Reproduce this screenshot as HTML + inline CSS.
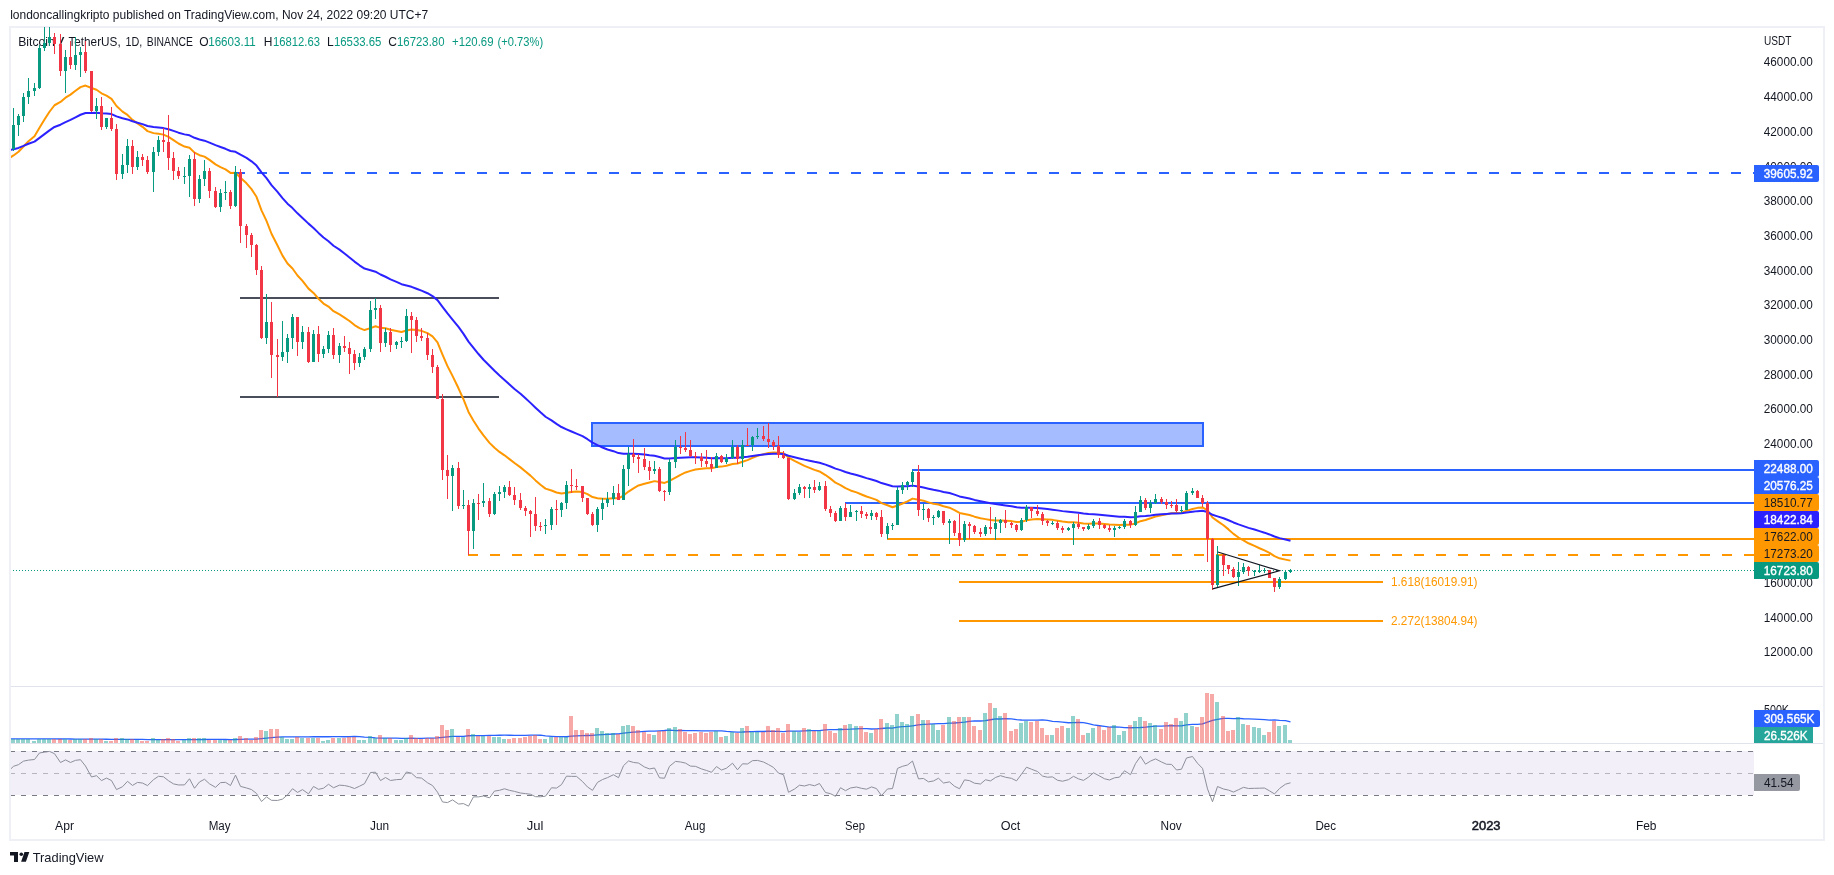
<!DOCTYPE html>
<html><head><meta charset="utf-8"><style>
html,body{margin:0;padding:0;background:#fff;width:1834px;height:875px;overflow:hidden;font-family:"Liberation Sans",sans-serif;}
</style></head><body>
<svg width="1834" height="875" viewBox="0 0 1834 875" style="position:absolute;left:0;top:0;will-change:transform">
<defs><clipPath id="cm"><rect x="11" y="27" width="1743" height="659"/></clipPath>
<clipPath id="cv"><rect x="11" y="687" width="1743" height="56"/></clipPath>
<clipPath id="cr"><rect x="11" y="744" width="1743" height="66"/></clipPath></defs>
<rect x="10" y="27" width="1814" height="813" fill="none" stroke="#eef0f5" stroke-width="2"/>
<rect x="11" y="686" width="1812" height="1" fill="#e0e3eb"/>
<rect x="11" y="743" width="1812" height="1" fill="#e0e3eb"/>
<g clip-path="url(#cm)">
<rect x="592" y="423" width="611" height="23" fill="rgba(41,98,255,0.42)" stroke="#2962ff" stroke-width="2"/>
<rect x="240" y="297" width="259" height="2" fill="#4a4e5a"/>
<rect x="240" y="396" width="259" height="2" fill="#4a4e5a"/>
<line x1="235" y1="173" x2="1754" y2="173" stroke="#2962ff" stroke-width="2" stroke-dasharray="10 12"/>
<rect x="912" y="469" width="842" height="2" fill="#2962ff"/>
<rect x="845" y="502" width="909" height="2" fill="#2962ff"/>
<rect x="887" y="538" width="867" height="2" fill="#ff9800"/>
<line x1="468" y1="555" x2="1754" y2="555" stroke="#ff9800" stroke-width="2" stroke-dasharray="10 12"/>
<rect x="959" y="581" width="424" height="2" fill="#ff9800"/>
<rect x="959" y="620" width="424" height="2" fill="#ff9800"/>
<line x1="11" y1="570.5" x2="1754" y2="570.5" stroke="#089981" stroke-width="1" stroke-dasharray="1 2" stroke-dashoffset="1"/>
<polyline points="8.50,158.62 13.50,155.43 18.50,151.69 23.50,146.47 28.50,141.22 34.50,136.14 39.50,127.71 44.50,119.60 49.50,111.75 54.50,105.25 60.50,101.94 65.50,97.67 70.50,94.59 75.50,90.81 80.50,87.11 85.50,85.56 91.50,87.99 96.50,89.74 101.50,93.30 106.50,95.69 111.50,98.83 116.50,106.02 122.50,111.63 127.50,114.92 132.50,119.90 137.50,123.39 142.50,126.84 147.50,131.12 153.50,133.13 158.50,133.81 163.50,134.62 168.50,136.83 173.50,140.10 178.50,143.51 184.50,146.57 189.50,147.73 194.50,152.61 199.50,155.17 204.50,156.64 209.50,159.87 215.50,164.38 220.50,167.09 225.50,169.44 230.50,172.88 235.50,172.75 240.50,177.82 246.50,183.30 251.50,189.15 256.50,196.82 261.50,210.30 266.50,220.95 271.50,233.74 277.50,245.44 282.50,255.60 287.50,263.47 292.50,268.53 297.50,275.52 302.50,280.90 308.50,288.63 313.50,292.97 318.50,298.74 323.50,303.56 328.50,306.52 333.50,311.15 339.50,314.44 344.50,317.61 349.50,321.03 354.50,325.08 359.50,328.07 364.50,330.06 370.50,328.12 375.50,326.24 380.50,327.85 385.50,328.23 390.50,329.82 396.50,330.99 401.50,331.95 406.50,330.42 411.50,329.45 416.50,330.09 421.50,330.83 427.50,333.18 432.50,336.40 437.50,342.38 442.50,354.55 447.50,366.13 452.50,375.88 458.50,388.30 463.50,399.43 468.50,411.98 473.50,420.68 478.50,428.55 483.50,435.42 489.50,442.86 494.50,447.73 499.50,451.93 504.50,455.31 509.50,459.11 514.50,463.05 520.50,467.37 525.50,471.53 530.50,475.61 535.50,480.39 540.50,484.76 545.50,488.60 551.50,490.56 556.50,492.44 561.50,493.49 566.50,492.69 571.50,492.02 576.50,491.41 582.50,492.07 587.50,494.15 592.50,497.08 597.50,498.24 602.50,498.70 607.50,498.72 613.50,498.13 618.50,498.27 623.50,495.53 628.50,491.58 633.50,488.32 638.50,485.49 644.50,483.70 649.50,482.47 654.50,481.14 659.50,482.03 664.50,482.94 669.50,480.95 675.50,477.67 680.50,474.83 685.50,472.47 690.50,470.91 695.50,469.54 701.50,468.77 706.50,468.35 711.50,468.29 716.50,467.10 721.50,466.62 726.50,465.81 732.50,464.04 737.50,463.52 742.50,461.73 747.50,460.13 752.50,457.92 757.50,455.85 763.50,454.20 768.50,453.06 773.50,452.43 778.50,452.70 783.50,453.19 788.50,457.54 794.50,460.96 799.50,463.44 804.50,465.87 809.50,467.86 814.50,469.92 819.50,471.48 825.50,475.06 830.50,478.64 835.50,482.67 840.50,485.12 845.50,488.11 850.50,490.43 856.50,492.39 861.50,494.46 866.50,496.53 871.50,498.12 876.50,499.91 881.50,503.18 887.50,505.31 892.50,507.20 897.50,505.53 902.50,503.54 907.50,501.45 912.50,498.62 918.50,499.73 923.50,500.65 928.50,502.34 933.50,503.71 938.50,504.44 943.50,506.24 949.50,507.68 954.50,510.07 959.50,512.92 964.50,513.95 969.50,515.06 974.50,516.67 980.50,518.32 985.50,519.12 990.50,520.09 995.50,520.41 1000.50,520.41 1005.50,520.68 1011.50,521.12 1016.50,521.93 1021.50,521.72 1026.50,520.36 1031.50,519.42 1037.50,518.91 1042.50,519.15 1047.50,519.56 1052.50,519.87 1057.50,520.67 1062.50,521.53 1068.50,522.14 1073.50,522.32 1078.50,522.80 1083.50,523.44 1088.50,523.68 1093.50,523.43 1099.50,523.57 1104.50,524.01 1109.50,524.55 1114.50,524.85 1119.50,525.06 1124.50,524.65 1130.50,524.65 1135.50,523.41 1140.50,521.17 1145.50,519.93 1150.50,518.32 1155.50,516.50 1161.50,515.16 1166.50,514.17 1171.50,513.29 1176.50,513.04 1181.50,512.72 1186.50,510.88 1192.50,508.96 1197.50,507.87 1202.50,507.44 1207.50,510.40 1212.50,517.49 1217.50,521.08 1223.50,525.24 1228.50,529.39 1233.50,533.88 1238.50,537.51 1243.50,540.35 1248.50,543.28 1254.50,545.90 1259.50,548.25 1264.50,550.36 1269.50,552.96 1274.50,556.15 1279.50,558.31 1285.50,559.64 1290.50,560.64" fill="none" stroke="#ff9800" stroke-width="2" stroke-linejoin="round"/>
<polyline points="8.50,150.19 13.50,149.20 18.50,147.91 23.50,145.91 28.50,143.77 34.50,141.57 39.50,137.89 44.50,134.15 49.50,130.35 54.50,126.94 60.50,124.73 65.50,122.08 70.50,119.85 75.50,117.31 80.50,114.74 85.50,113.02 91.50,112.95 96.50,112.69 101.50,113.25 106.50,113.45 111.50,114.05 116.50,116.42 122.50,118.32 127.50,119.41 132.50,121.28 137.50,122.67 142.50,124.12 147.50,125.98 153.50,127.01 158.50,127.53 163.50,128.11 168.50,129.28 173.50,130.92 178.50,132.68 184.50,134.37 189.50,135.33 194.50,137.82 199.50,139.45 204.50,140.68 209.50,142.63 215.50,145.17 220.50,147.03 225.50,148.79 230.50,151.02 235.50,151.82 240.50,154.73 246.50,157.89 251.50,161.30 256.50,165.55 261.50,172.32 266.50,178.20 271.50,185.14 277.50,191.86 282.50,198.15 287.50,203.64 292.50,208.07 297.50,213.32 302.50,217.98 308.50,223.62 313.50,227.96 318.50,232.89 323.50,237.45 328.50,241.27 333.50,245.73 339.50,249.65 344.50,253.50 349.50,257.42 354.50,261.58 359.50,265.31 364.50,268.59 370.50,270.19 375.50,271.70 380.50,274.50 385.50,276.75 390.50,279.42 396.50,281.88 401.50,284.20 406.50,285.44 411.50,286.81 416.50,288.74 421.50,290.67 427.50,293.21 432.50,296.11 437.50,300.15 442.50,306.81 447.50,313.46 452.50,319.53 458.50,326.86 463.50,333.85 468.50,341.59 473.50,347.93 478.50,354.03 483.50,359.78 489.50,365.81 494.50,370.83 499.50,375.58 504.50,379.96 509.50,384.49 514.50,389.03 520.50,393.71 525.50,398.32 530.50,402.87 535.50,407.69 540.50,412.34 545.50,416.76 551.50,420.39 556.50,423.91 561.50,427.03 566.50,429.31 571.50,431.52 576.50,433.64 582.50,436.18 587.50,439.22 592.50,442.59 597.50,445.20 602.50,447.47 607.50,449.48 613.50,451.17 618.50,453.07 623.50,453.72 628.50,453.73 633.50,453.87 638.50,454.06 644.50,454.55 649.50,455.19 654.50,455.71 659.50,457.08 664.50,458.43 669.50,458.57 675.50,458.10 680.50,457.69 685.50,457.39 690.50,457.34 695.50,457.31 701.50,457.47 706.50,457.74 711.50,458.14 716.50,458.05 721.50,458.20 726.50,458.20 732.50,457.77 737.50,457.80 742.50,457.29 747.50,456.80 752.50,456.02 757.50,455.24 763.50,454.59 768.50,454.11 773.50,453.80 778.50,453.86 783.50,454.02 788.50,455.78 794.50,457.25 799.50,458.42 804.50,459.62 809.50,460.68 814.50,461.81 819.50,462.77 825.50,464.59 830.50,466.47 835.50,468.61 840.50,470.17 845.50,471.99 850.50,473.57 856.50,475.04 861.50,476.57 866.50,478.13 871.50,479.51 876.50,480.97 881.50,483.06 887.50,484.73 892.50,486.31 897.50,486.44 902.50,486.37 907.50,486.19 912.50,485.62 918.50,486.59 923.50,487.48 928.50,488.69 933.50,489.79 938.50,490.64 943.50,491.92 949.50,493.07 954.50,494.63 959.50,496.41 964.50,497.48 969.50,498.58 974.50,499.90 980.50,501.23 985.50,502.23 990.50,503.29 995.50,504.08 1000.50,504.72 1005.50,505.45 1011.50,506.23 1016.50,507.15 1021.50,507.64 1026.50,507.63 1031.50,507.74 1037.50,507.99 1042.50,508.52 1047.50,509.10 1052.50,509.64 1057.50,510.37 1062.50,511.13 1068.50,511.79 1073.50,512.27 1078.50,512.86 1083.50,513.51 1088.50,514.00 1093.50,514.28 1099.50,514.69 1104.50,515.23 1109.50,515.79 1114.50,516.26 1119.50,516.68 1124.50,516.84 1130.50,517.15 1135.50,516.93 1140.50,516.26 1145.50,515.95 1150.50,515.44 1155.50,514.80 1161.50,514.32 1166.50,513.94 1171.50,513.59 1176.50,513.47 1181.50,513.33 1186.50,512.54 1192.50,511.69 1197.50,511.13 1202.50,510.83 1207.50,511.92 1212.50,514.77 1217.50,516.36 1223.50,518.26 1228.50,520.24 1233.50,522.45 1238.50,524.39 1243.50,526.08 1248.50,527.84 1254.50,529.53 1259.50,531.14 1264.50,532.67 1269.50,534.44 1274.50,536.48 1279.50,538.14 1285.50,539.48 1290.50,540.68" fill="none" stroke="#2b22ff" stroke-width="2" stroke-linejoin="round"/>
<text x="18.2" y="45.8" font-family="&quot;Liberation Sans&quot;, sans-serif" font-size="12" fill="#131722" text-anchor="start" textLength="36.6" lengthAdjust="spacingAndGlyphs">Bitcoin</text>
<text x="58.7" y="45.8" font-family="&quot;Liberation Sans&quot;, sans-serif" font-size="12" fill="#131722" text-anchor="start" textLength="5.6" lengthAdjust="spacingAndGlyphs">/</text>
<text x="68.4" y="45.8" font-family="&quot;Liberation Sans&quot;, sans-serif" font-size="12" fill="#131722" text-anchor="start" textLength="52.3" lengthAdjust="spacingAndGlyphs">TetherUS,</text>
<text x="125.5" y="45.8" font-family="&quot;Liberation Sans&quot;, sans-serif" font-size="12" fill="#131722" text-anchor="start" textLength="16.8" lengthAdjust="spacingAndGlyphs">1D,</text>
<text x="146.8" y="45.8" font-family="&quot;Liberation Sans&quot;, sans-serif" font-size="12" fill="#131722" text-anchor="start" textLength="46.0" lengthAdjust="spacingAndGlyphs">BINANCE</text>
<g shape-rendering="crispEdges"><rect x="8" y="139" width="1" height="19" fill="#f23645"/><rect x="7" y="144" width="3" height="5" fill="#f23645"/><rect x="13" y="108" width="1" height="43" fill="#089981"/><rect x="12" y="125" width="3" height="24" fill="#089981"/><rect x="18" y="114" width="1" height="22" fill="#089981"/><rect x="17" y="116" width="3" height="9" fill="#089981"/><rect x="23" y="93" width="1" height="29" fill="#089981"/><rect x="22" y="97" width="3" height="19" fill="#089981"/><rect x="28" y="78" width="1" height="26" fill="#089981"/><rect x="27" y="91" width="3" height="6" fill="#089981"/><rect x="34" y="83" width="1" height="13" fill="#089981"/><rect x="33" y="88" width="3" height="3" fill="#089981"/><rect x="39" y="45" width="1" height="44" fill="#089981"/><rect x="38" y="48" width="3" height="40" fill="#089981"/><rect x="44" y="24" width="1" height="27" fill="#089981"/><rect x="43" y="43" width="3" height="5" fill="#089981"/><rect x="49" y="26" width="1" height="20" fill="#089981"/><rect x="48" y="37" width="3" height="6" fill="#089981"/><rect x="54" y="33" width="1" height="21" fill="#f23645"/><rect x="53" y="37" width="3" height="7" fill="#f23645"/><rect x="60" y="34" width="1" height="42" fill="#f23645"/><rect x="59" y="44" width="3" height="27" fill="#f23645"/><rect x="65" y="50" width="1" height="43" fill="#089981"/><rect x="64" y="57" width="3" height="14" fill="#089981"/><rect x="70" y="41" width="1" height="28" fill="#f23645"/><rect x="69" y="57" width="3" height="8" fill="#f23645"/><rect x="75" y="37" width="1" height="33" fill="#089981"/><rect x="74" y="55" width="3" height="10" fill="#089981"/><rect x="80" y="47" width="1" height="30" fill="#089981"/><rect x="79" y="52" width="3" height="3" fill="#089981"/><rect x="85" y="41" width="1" height="32" fill="#f23645"/><rect x="84" y="52" width="3" height="19" fill="#f23645"/><rect x="91" y="71" width="1" height="41" fill="#f23645"/><rect x="90" y="71" width="3" height="40" fill="#f23645"/><rect x="96" y="98" width="1" height="21" fill="#089981"/><rect x="95" y="106" width="3" height="5" fill="#089981"/><rect x="101" y="97" width="1" height="33" fill="#f23645"/><rect x="100" y="106" width="3" height="21" fill="#f23645"/><rect x="106" y="118" width="1" height="11" fill="#089981"/><rect x="105" y="118" width="3" height="9" fill="#089981"/><rect x="111" y="107" width="1" height="24" fill="#f23645"/><rect x="110" y="118" width="3" height="11" fill="#f23645"/><rect x="116" y="124" width="1" height="56" fill="#f23645"/><rect x="115" y="129" width="3" height="45" fill="#f23645"/><rect x="122" y="154" width="1" height="25" fill="#089981"/><rect x="121" y="165" width="3" height="9" fill="#089981"/><rect x="127" y="139" width="1" height="34" fill="#089981"/><rect x="126" y="146" width="3" height="19" fill="#089981"/><rect x="132" y="140" width="1" height="34" fill="#f23645"/><rect x="131" y="146" width="3" height="21" fill="#f23645"/><rect x="137" y="151" width="1" height="19" fill="#089981"/><rect x="136" y="157" width="3" height="10" fill="#089981"/><rect x="142" y="154" width="1" height="12" fill="#f23645"/><rect x="141" y="157" width="3" height="3" fill="#f23645"/><rect x="147" y="156" width="1" height="18" fill="#f23645"/><rect x="146" y="160" width="3" height="12" fill="#f23645"/><rect x="153" y="147" width="1" height="45" fill="#089981"/><rect x="152" y="152" width="3" height="20" fill="#089981"/><rect x="158" y="136" width="1" height="20" fill="#089981"/><rect x="157" y="140" width="3" height="12" fill="#089981"/><rect x="163" y="128" width="1" height="24" fill="#f23645"/><rect x="162" y="140" width="3" height="2" fill="#f23645"/><rect x="168" y="115" width="1" height="55" fill="#f23645"/><rect x="167" y="142" width="3" height="16" fill="#f23645"/><rect x="173" y="152" width="1" height="28" fill="#f23645"/><rect x="172" y="158" width="3" height="13" fill="#f23645"/><rect x="178" y="167" width="1" height="12" fill="#f23645"/><rect x="177" y="171" width="3" height="5" fill="#f23645"/><rect x="184" y="167" width="1" height="17" fill="#089981"/><rect x="183" y="176" width="3" height="1" fill="#089981"/><rect x="189" y="155" width="1" height="42" fill="#089981"/><rect x="188" y="159" width="3" height="17" fill="#089981"/><rect x="194" y="152" width="1" height="54" fill="#f23645"/><rect x="193" y="159" width="3" height="40" fill="#f23645"/><rect x="199" y="175" width="1" height="28" fill="#089981"/><rect x="198" y="179" width="3" height="20" fill="#089981"/><rect x="204" y="160" width="1" height="26" fill="#089981"/><rect x="203" y="171" width="3" height="8" fill="#089981"/><rect x="209" y="168" width="1" height="30" fill="#f23645"/><rect x="208" y="171" width="3" height="20" fill="#f23645"/><rect x="215" y="187" width="1" height="21" fill="#f23645"/><rect x="214" y="191" width="3" height="16" fill="#f23645"/><rect x="220" y="189" width="1" height="23" fill="#089981"/><rect x="219" y="193" width="3" height="14" fill="#089981"/><rect x="225" y="181" width="1" height="19" fill="#089981"/><rect x="224" y="192" width="3" height="1" fill="#089981"/><rect x="230" y="190" width="1" height="19" fill="#f23645"/><rect x="229" y="192" width="3" height="14" fill="#f23645"/><rect x="235" y="166" width="1" height="41" fill="#089981"/><rect x="234" y="172" width="3" height="34" fill="#089981"/><rect x="240" y="169" width="1" height="74" fill="#f23645"/><rect x="239" y="172" width="3" height="54" fill="#f23645"/><rect x="246" y="224" width="1" height="24" fill="#f23645"/><rect x="245" y="226" width="3" height="9" fill="#f23645"/><rect x="251" y="233" width="1" height="24" fill="#f23645"/><rect x="250" y="235" width="3" height="10" fill="#f23645"/><rect x="256" y="244" width="1" height="31" fill="#f23645"/><rect x="255" y="245" width="3" height="25" fill="#f23645"/><rect x="261" y="266" width="1" height="73" fill="#f23645"/><rect x="260" y="270" width="3" height="68" fill="#f23645"/><rect x="266" y="294" width="1" height="50" fill="#089981"/><rect x="265" y="322" width="3" height="16" fill="#089981"/><rect x="271" y="302" width="1" height="76" fill="#f23645"/><rect x="270" y="322" width="3" height="33" fill="#f23645"/><rect x="277" y="339" width="1" height="58" fill="#f23645"/><rect x="276" y="355" width="3" height="2" fill="#f23645"/><rect x="282" y="321" width="1" height="40" fill="#089981"/><rect x="281" y="352" width="3" height="5" fill="#089981"/><rect x="287" y="334" width="1" height="29" fill="#089981"/><rect x="286" y="338" width="3" height="14" fill="#089981"/><rect x="292" y="314" width="1" height="35" fill="#089981"/><rect x="291" y="317" width="3" height="21" fill="#089981"/><rect x="297" y="317" width="1" height="39" fill="#f23645"/><rect x="296" y="317" width="3" height="25" fill="#f23645"/><rect x="302" y="326" width="1" height="23" fill="#089981"/><rect x="301" y="332" width="3" height="10" fill="#089981"/><rect x="308" y="327" width="1" height="36" fill="#f23645"/><rect x="307" y="332" width="3" height="30" fill="#f23645"/><rect x="313" y="330" width="1" height="32" fill="#089981"/><rect x="312" y="334" width="3" height="28" fill="#089981"/><rect x="318" y="326" width="1" height="36" fill="#f23645"/><rect x="317" y="334" width="3" height="20" fill="#f23645"/><rect x="323" y="346" width="1" height="12" fill="#089981"/><rect x="322" y="349" width="3" height="5" fill="#089981"/><rect x="328" y="331" width="1" height="22" fill="#089981"/><rect x="327" y="335" width="3" height="14" fill="#089981"/><rect x="333" y="328" width="1" height="31" fill="#f23645"/><rect x="332" y="335" width="3" height="20" fill="#f23645"/><rect x="339" y="343" width="1" height="20" fill="#089981"/><rect x="338" y="346" width="3" height="9" fill="#089981"/><rect x="344" y="336" width="1" height="16" fill="#f23645"/><rect x="343" y="346" width="3" height="2" fill="#f23645"/><rect x="349" y="342" width="1" height="32" fill="#f23645"/><rect x="348" y="348" width="3" height="6" fill="#f23645"/><rect x="354" y="350" width="1" height="20" fill="#f23645"/><rect x="353" y="354" width="3" height="9" fill="#f23645"/><rect x="359" y="353" width="1" height="14" fill="#089981"/><rect x="358" y="357" width="3" height="6" fill="#089981"/><rect x="364" y="347" width="1" height="13" fill="#089981"/><rect x="363" y="349" width="3" height="8" fill="#089981"/><rect x="370" y="301" width="1" height="51" fill="#089981"/><rect x="369" y="310" width="3" height="39" fill="#089981"/><rect x="375" y="298" width="1" height="21" fill="#089981"/><rect x="374" y="308" width="3" height="2" fill="#089981"/><rect x="380" y="305" width="1" height="47" fill="#f23645"/><rect x="379" y="308" width="3" height="35" fill="#f23645"/><rect x="385" y="328" width="1" height="19" fill="#089981"/><rect x="384" y="332" width="3" height="11" fill="#089981"/><rect x="390" y="328" width="1" height="24" fill="#f23645"/><rect x="389" y="332" width="3" height="13" fill="#f23645"/><rect x="396" y="341" width="1" height="8" fill="#089981"/><rect x="395" y="342" width="3" height="3" fill="#089981"/><rect x="401" y="337" width="1" height="11" fill="#089981"/><rect x="400" y="341" width="3" height="1" fill="#089981"/><rect x="406" y="309" width="1" height="33" fill="#089981"/><rect x="405" y="316" width="3" height="25" fill="#089981"/><rect x="411" y="312" width="1" height="41" fill="#f23645"/><rect x="410" y="316" width="3" height="4" fill="#f23645"/><rect x="416" y="317" width="1" height="25" fill="#f23645"/><rect x="415" y="320" width="3" height="16" fill="#f23645"/><rect x="421" y="328" width="1" height="13" fill="#f23645"/><rect x="420" y="336" width="3" height="2" fill="#f23645"/><rect x="427" y="333" width="1" height="27" fill="#f23645"/><rect x="426" y="338" width="3" height="17" fill="#f23645"/><rect x="432" y="349" width="1" height="24" fill="#f23645"/><rect x="431" y="355" width="3" height="12" fill="#f23645"/><rect x="437" y="365" width="1" height="34" fill="#f23645"/><rect x="436" y="367" width="3" height="32" fill="#f23645"/><rect x="442" y="394" width="1" height="86" fill="#f23645"/><rect x="441" y="399" width="3" height="71" fill="#f23645"/><rect x="447" y="455" width="1" height="44" fill="#f23645"/><rect x="446" y="470" width="3" height="6" fill="#f23645"/><rect x="452" y="465" width="1" height="46" fill="#089981"/><rect x="451" y="468" width="3" height="8" fill="#089981"/><rect x="458" y="462" width="1" height="47" fill="#f23645"/><rect x="457" y="468" width="3" height="38" fill="#f23645"/><rect x="463" y="490" width="1" height="19" fill="#089981"/><rect x="462" y="505" width="3" height="1" fill="#089981"/><rect x="468" y="500" width="1" height="55" fill="#f23645"/><rect x="467" y="505" width="3" height="26" fill="#f23645"/><rect x="473" y="499" width="1" height="50" fill="#089981"/><rect x="472" y="503" width="3" height="28" fill="#089981"/><rect x="478" y="494" width="1" height="26" fill="#f23645"/><rect x="477" y="503" width="3" height="1" fill="#f23645"/><rect x="483" y="483" width="1" height="24" fill="#089981"/><rect x="482" y="501" width="3" height="2" fill="#089981"/><rect x="489" y="498" width="1" height="19" fill="#f23645"/><rect x="488" y="501" width="3" height="13" fill="#f23645"/><rect x="494" y="492" width="1" height="23" fill="#089981"/><rect x="493" y="494" width="3" height="20" fill="#089981"/><rect x="499" y="486" width="1" height="15" fill="#089981"/><rect x="498" y="492" width="3" height="2" fill="#089981"/><rect x="504" y="485" width="1" height="13" fill="#089981"/><rect x="503" y="487" width="3" height="5" fill="#089981"/><rect x="509" y="481" width="1" height="15" fill="#f23645"/><rect x="508" y="487" width="3" height="8" fill="#f23645"/><rect x="514" y="487" width="1" height="18" fill="#f23645"/><rect x="513" y="495" width="3" height="5" fill="#f23645"/><rect x="520" y="493" width="1" height="17" fill="#f23645"/><rect x="519" y="500" width="3" height="8" fill="#f23645"/><rect x="525" y="506" width="1" height="10" fill="#f23645"/><rect x="524" y="508" width="3" height="3" fill="#f23645"/><rect x="530" y="510" width="1" height="27" fill="#f23645"/><rect x="529" y="511" width="3" height="3" fill="#f23645"/><rect x="535" y="497" width="1" height="34" fill="#f23645"/><rect x="534" y="514" width="3" height="12" fill="#f23645"/><rect x="540" y="522" width="1" height="9" fill="#f23645"/><rect x="539" y="526" width="3" height="1" fill="#f23645"/><rect x="545" y="519" width="1" height="15" fill="#089981"/><rect x="544" y="525" width="3" height="1" fill="#089981"/><rect x="551" y="507" width="1" height="23" fill="#089981"/><rect x="550" y="509" width="3" height="16" fill="#089981"/><rect x="556" y="500" width="1" height="25" fill="#f23645"/><rect x="555" y="509" width="3" height="1" fill="#f23645"/><rect x="561" y="502" width="1" height="15" fill="#089981"/><rect x="560" y="503" width="3" height="7" fill="#089981"/><rect x="566" y="481" width="1" height="28" fill="#089981"/><rect x="565" y="485" width="3" height="18" fill="#089981"/><rect x="571" y="469" width="1" height="24" fill="#f23645"/><rect x="570" y="485" width="3" height="1" fill="#f23645"/><rect x="576" y="479" width="1" height="11" fill="#f23645"/><rect x="575" y="486" width="3" height="1" fill="#f23645"/><rect x="582" y="486" width="1" height="16" fill="#f23645"/><rect x="581" y="486" width="3" height="12" fill="#f23645"/><rect x="587" y="498" width="1" height="17" fill="#f23645"/><rect x="586" y="498" width="3" height="16" fill="#f23645"/><rect x="592" y="512" width="1" height="14" fill="#f23645"/><rect x="591" y="514" width="3" height="11" fill="#f23645"/><rect x="597" y="507" width="1" height="25" fill="#089981"/><rect x="596" y="509" width="3" height="16" fill="#089981"/><rect x="602" y="498" width="1" height="22" fill="#089981"/><rect x="601" y="503" width="3" height="6" fill="#089981"/><rect x="607" y="492" width="1" height="15" fill="#089981"/><rect x="606" y="499" width="3" height="4" fill="#089981"/><rect x="613" y="486" width="1" height="19" fill="#089981"/><rect x="612" y="493" width="3" height="6" fill="#089981"/><rect x="618" y="484" width="1" height="16" fill="#f23645"/><rect x="617" y="493" width="3" height="7" fill="#f23645"/><rect x="623" y="465" width="1" height="35" fill="#089981"/><rect x="622" y="469" width="3" height="31" fill="#089981"/><rect x="628" y="447" width="1" height="39" fill="#089981"/><rect x="627" y="454" width="3" height="15" fill="#089981"/><rect x="633" y="439" width="1" height="24" fill="#f23645"/><rect x="632" y="454" width="3" height="3" fill="#f23645"/><rect x="638" y="454" width="1" height="19" fill="#f23645"/><rect x="637" y="457" width="3" height="2" fill="#f23645"/><rect x="644" y="448" width="1" height="22" fill="#f23645"/><rect x="643" y="459" width="3" height="8" fill="#f23645"/><rect x="649" y="461" width="1" height="19" fill="#f23645"/><rect x="648" y="467" width="3" height="4" fill="#f23645"/><rect x="654" y="461" width="1" height="13" fill="#089981"/><rect x="653" y="469" width="3" height="2" fill="#089981"/><rect x="659" y="467" width="1" height="25" fill="#f23645"/><rect x="658" y="469" width="3" height="22" fill="#f23645"/><rect x="664" y="490" width="1" height="11" fill="#f23645"/><rect x="663" y="491" width="3" height="1" fill="#f23645"/><rect x="669" y="459" width="1" height="36" fill="#089981"/><rect x="668" y="462" width="3" height="30" fill="#089981"/><rect x="675" y="440" width="1" height="28" fill="#089981"/><rect x="674" y="447" width="3" height="15" fill="#089981"/><rect x="680" y="436" width="1" height="18" fill="#f23645"/><rect x="679" y="447" width="3" height="1" fill="#f23645"/><rect x="685" y="432" width="1" height="20" fill="#f23645"/><rect x="684" y="448" width="3" height="2" fill="#f23645"/><rect x="690" y="440" width="1" height="17" fill="#f23645"/><rect x="689" y="450" width="3" height="6" fill="#f23645"/><rect x="695" y="452" width="1" height="12" fill="#f23645"/><rect x="694" y="456" width="3" height="1" fill="#f23645"/><rect x="701" y="453" width="1" height="14" fill="#f23645"/><rect x="700" y="457" width="3" height="4" fill="#f23645"/><rect x="706" y="450" width="1" height="17" fill="#f23645"/><rect x="705" y="461" width="3" height="3" fill="#f23645"/><rect x="711" y="457" width="1" height="15" fill="#f23645"/><rect x="710" y="464" width="3" height="4" fill="#f23645"/><rect x="716" y="453" width="1" height="15" fill="#089981"/><rect x="715" y="456" width="3" height="12" fill="#089981"/><rect x="721" y="455" width="1" height="8" fill="#f23645"/><rect x="720" y="456" width="3" height="6" fill="#f23645"/><rect x="726" y="454" width="1" height="10" fill="#089981"/><rect x="725" y="458" width="3" height="4" fill="#089981"/><rect x="732" y="440" width="1" height="19" fill="#089981"/><rect x="731" y="447" width="3" height="11" fill="#089981"/><rect x="737" y="445" width="1" height="19" fill="#f23645"/><rect x="736" y="447" width="3" height="12" fill="#f23645"/><rect x="742" y="440" width="1" height="27" fill="#089981"/><rect x="741" y="445" width="3" height="14" fill="#089981"/><rect x="747" y="428" width="1" height="18" fill="#f23645"/><rect x="746" y="445" width="3" height="1" fill="#f23645"/><rect x="752" y="436" width="1" height="15" fill="#089981"/><rect x="751" y="437" width="3" height="8" fill="#089981"/><rect x="757" y="428" width="1" height="11" fill="#089981"/><rect x="756" y="436" width="3" height="1" fill="#089981"/><rect x="763" y="426" width="1" height="15" fill="#f23645"/><rect x="762" y="436" width="3" height="3" fill="#f23645"/><rect x="768" y="423" width="1" height="25" fill="#f23645"/><rect x="767" y="439" width="3" height="3" fill="#f23645"/><rect x="773" y="440" width="1" height="10" fill="#f23645"/><rect x="772" y="442" width="3" height="4" fill="#f23645"/><rect x="778" y="436" width="1" height="22" fill="#f23645"/><rect x="777" y="446" width="3" height="9" fill="#f23645"/><rect x="783" y="451" width="1" height="8" fill="#f23645"/><rect x="782" y="455" width="3" height="3" fill="#f23645"/><rect x="788" y="458" width="1" height="42" fill="#f23645"/><rect x="787" y="458" width="3" height="41" fill="#f23645"/><rect x="794" y="489" width="1" height="11" fill="#089981"/><rect x="793" y="493" width="3" height="6" fill="#089981"/><rect x="799" y="484" width="1" height="11" fill="#089981"/><rect x="798" y="487" width="3" height="6" fill="#089981"/><rect x="804" y="486" width="1" height="12" fill="#f23645"/><rect x="803" y="487" width="3" height="2" fill="#f23645"/><rect x="809" y="484" width="1" height="14" fill="#089981"/><rect x="808" y="487" width="3" height="2" fill="#089981"/><rect x="814" y="480" width="1" height="13" fill="#f23645"/><rect x="813" y="487" width="3" height="3" fill="#f23645"/><rect x="819" y="482" width="1" height="9" fill="#089981"/><rect x="818" y="486" width="3" height="4" fill="#089981"/><rect x="825" y="481" width="1" height="30" fill="#f23645"/><rect x="824" y="486" width="3" height="23" fill="#f23645"/><rect x="830" y="506" width="1" height="11" fill="#f23645"/><rect x="829" y="509" width="3" height="4" fill="#f23645"/><rect x="835" y="511" width="1" height="11" fill="#f23645"/><rect x="834" y="513" width="3" height="8" fill="#f23645"/><rect x="840" y="506" width="1" height="15" fill="#089981"/><rect x="839" y="508" width="3" height="13" fill="#089981"/><rect x="845" y="503" width="1" height="18" fill="#f23645"/><rect x="844" y="508" width="3" height="9" fill="#f23645"/><rect x="850" y="505" width="1" height="12" fill="#089981"/><rect x="849" y="512" width="3" height="5" fill="#089981"/><rect x="856" y="510" width="1" height="11" fill="#089981"/><rect x="855" y="511" width="3" height="1" fill="#089981"/><rect x="861" y="506" width="1" height="12" fill="#f23645"/><rect x="860" y="511" width="3" height="3" fill="#f23645"/><rect x="866" y="512" width="1" height="7" fill="#f23645"/><rect x="865" y="514" width="3" height="2" fill="#f23645"/><rect x="871" y="510" width="1" height="10" fill="#089981"/><rect x="870" y="513" width="3" height="3" fill="#089981"/><rect x="876" y="512" width="1" height="8" fill="#f23645"/><rect x="875" y="513" width="3" height="4" fill="#f23645"/><rect x="881" y="510" width="1" height="27" fill="#f23645"/><rect x="880" y="517" width="3" height="17" fill="#f23645"/><rect x="887" y="523" width="1" height="16" fill="#089981"/><rect x="886" y="526" width="3" height="8" fill="#089981"/><rect x="892" y="523" width="1" height="7" fill="#089981"/><rect x="891" y="525" width="3" height="1" fill="#089981"/><rect x="897" y="487" width="1" height="38" fill="#089981"/><rect x="896" y="490" width="3" height="35" fill="#089981"/><rect x="902" y="482" width="1" height="12" fill="#089981"/><rect x="901" y="485" width="3" height="5" fill="#089981"/><rect x="907" y="481" width="1" height="9" fill="#089981"/><rect x="906" y="482" width="3" height="3" fill="#089981"/><rect x="912" y="470" width="1" height="17" fill="#089981"/><rect x="911" y="472" width="3" height="10" fill="#089981"/><rect x="918" y="465" width="1" height="51" fill="#f23645"/><rect x="917" y="472" width="3" height="38" fill="#f23645"/><rect x="923" y="504" width="1" height="16" fill="#089981"/><rect x="922" y="509" width="3" height="1" fill="#089981"/><rect x="928" y="508" width="1" height="14" fill="#f23645"/><rect x="927" y="509" width="3" height="9" fill="#f23645"/><rect x="933" y="515" width="1" height="10" fill="#089981"/><rect x="932" y="517" width="3" height="1" fill="#089981"/><rect x="938" y="510" width="1" height="8" fill="#089981"/><rect x="937" y="511" width="3" height="6" fill="#089981"/><rect x="943" y="511" width="1" height="14" fill="#f23645"/><rect x="942" y="511" width="3" height="12" fill="#f23645"/><rect x="949" y="519" width="1" height="25" fill="#089981"/><rect x="948" y="521" width="3" height="2" fill="#089981"/><rect x="954" y="520" width="1" height="16" fill="#f23645"/><rect x="953" y="521" width="3" height="12" fill="#f23645"/><rect x="959" y="514" width="1" height="32" fill="#f23645"/><rect x="958" y="533" width="3" height="7" fill="#f23645"/><rect x="964" y="521" width="1" height="21" fill="#089981"/><rect x="963" y="524" width="3" height="16" fill="#089981"/><rect x="969" y="522" width="1" height="17" fill="#f23645"/><rect x="968" y="524" width="3" height="2" fill="#f23645"/><rect x="974" y="525" width="1" height="9" fill="#f23645"/><rect x="973" y="526" width="3" height="6" fill="#f23645"/><rect x="980" y="528" width="1" height="9" fill="#f23645"/><rect x="979" y="532" width="3" height="2" fill="#f23645"/><rect x="985" y="525" width="1" height="11" fill="#089981"/><rect x="984" y="527" width="3" height="7" fill="#089981"/><rect x="990" y="507" width="1" height="27" fill="#f23645"/><rect x="989" y="527" width="3" height="2" fill="#f23645"/><rect x="995" y="517" width="1" height="23" fill="#089981"/><rect x="994" y="523" width="3" height="6" fill="#089981"/><rect x="1000" y="519" width="1" height="14" fill="#089981"/><rect x="999" y="520" width="3" height="3" fill="#089981"/><rect x="1005" y="510" width="1" height="18" fill="#f23645"/><rect x="1004" y="520" width="3" height="3" fill="#f23645"/><rect x="1011" y="522" width="1" height="6" fill="#f23645"/><rect x="1010" y="523" width="3" height="2" fill="#f23645"/><rect x="1016" y="524" width="1" height="8" fill="#f23645"/><rect x="1015" y="525" width="3" height="5" fill="#f23645"/><rect x="1021" y="518" width="1" height="13" fill="#089981"/><rect x="1020" y="520" width="3" height="10" fill="#089981"/><rect x="1026" y="505" width="1" height="17" fill="#089981"/><rect x="1025" y="507" width="3" height="13" fill="#089981"/><rect x="1031" y="507" width="1" height="11" fill="#f23645"/><rect x="1030" y="507" width="3" height="4" fill="#f23645"/><rect x="1037" y="505" width="1" height="11" fill="#f23645"/><rect x="1036" y="511" width="3" height="3" fill="#f23645"/><rect x="1042" y="512" width="1" height="13" fill="#f23645"/><rect x="1041" y="514" width="3" height="7" fill="#f23645"/><rect x="1047" y="520" width="1" height="6" fill="#f23645"/><rect x="1046" y="521" width="3" height="2" fill="#f23645"/><rect x="1052" y="521" width="1" height="4" fill="#089981"/><rect x="1051" y="523" width="3" height="1" fill="#089981"/><rect x="1057" y="521" width="1" height="9" fill="#f23645"/><rect x="1056" y="523" width="3" height="5" fill="#f23645"/><rect x="1062" y="526" width="1" height="7" fill="#f23645"/><rect x="1061" y="528" width="3" height="2" fill="#f23645"/><rect x="1068" y="527" width="1" height="4" fill="#089981"/><rect x="1067" y="528" width="3" height="2" fill="#089981"/><rect x="1073" y="522" width="1" height="23" fill="#089981"/><rect x="1072" y="524" width="3" height="4" fill="#089981"/><rect x="1078" y="514" width="1" height="15" fill="#f23645"/><rect x="1077" y="524" width="3" height="3" fill="#f23645"/><rect x="1083" y="527" width="1" height="4" fill="#f23645"/><rect x="1082" y="527" width="3" height="2" fill="#f23645"/><rect x="1088" y="524" width="1" height="6" fill="#089981"/><rect x="1087" y="526" width="3" height="3" fill="#089981"/><rect x="1093" y="519" width="1" height="9" fill="#089981"/><rect x="1092" y="521" width="3" height="5" fill="#089981"/><rect x="1099" y="518" width="1" height="11" fill="#f23645"/><rect x="1098" y="521" width="3" height="4" fill="#f23645"/><rect x="1104" y="524" width="1" height="5" fill="#f23645"/><rect x="1103" y="525" width="3" height="3" fill="#f23645"/><rect x="1109" y="525" width="1" height="7" fill="#f23645"/><rect x="1108" y="528" width="3" height="2" fill="#f23645"/><rect x="1114" y="526" width="1" height="11" fill="#089981"/><rect x="1113" y="528" width="3" height="2" fill="#089981"/><rect x="1119" y="526" width="1" height="3" fill="#089981"/><rect x="1118" y="527" width="3" height="1" fill="#089981"/><rect x="1124" y="519" width="1" height="10" fill="#089981"/><rect x="1123" y="521" width="3" height="6" fill="#089981"/><rect x="1130" y="520" width="1" height="8" fill="#f23645"/><rect x="1129" y="521" width="3" height="4" fill="#f23645"/><rect x="1135" y="506" width="1" height="20" fill="#089981"/><rect x="1134" y="512" width="3" height="13" fill="#089981"/><rect x="1140" y="496" width="1" height="16" fill="#089981"/><rect x="1139" y="500" width="3" height="12" fill="#089981"/><rect x="1145" y="498" width="1" height="12" fill="#f23645"/><rect x="1144" y="500" width="3" height="8" fill="#f23645"/><rect x="1150" y="500" width="1" height="13" fill="#089981"/><rect x="1149" y="503" width="3" height="5" fill="#089981"/><rect x="1155" y="494" width="1" height="10" fill="#089981"/><rect x="1154" y="499" width="3" height="4" fill="#089981"/><rect x="1161" y="497" width="1" height="7" fill="#f23645"/><rect x="1160" y="499" width="3" height="3" fill="#f23645"/><rect x="1166" y="499" width="1" height="10" fill="#f23645"/><rect x="1165" y="502" width="3" height="3" fill="#f23645"/><rect x="1171" y="501" width="1" height="7" fill="#f23645"/><rect x="1170" y="505" width="3" height="1" fill="#f23645"/><rect x="1176" y="499" width="1" height="13" fill="#f23645"/><rect x="1175" y="505" width="3" height="6" fill="#f23645"/><rect x="1181" y="506" width="1" height="7" fill="#089981"/><rect x="1180" y="510" width="3" height="1" fill="#089981"/><rect x="1186" y="491" width="1" height="19" fill="#089981"/><rect x="1185" y="493" width="3" height="17" fill="#089981"/><rect x="1192" y="488" width="1" height="7" fill="#089981"/><rect x="1191" y="491" width="3" height="2" fill="#089981"/><rect x="1197" y="490" width="1" height="8" fill="#f23645"/><rect x="1196" y="491" width="3" height="7" fill="#f23645"/><rect x="1202" y="495" width="1" height="12" fill="#f23645"/><rect x="1201" y="498" width="3" height="5" fill="#f23645"/><rect x="1207" y="501" width="1" height="61" fill="#f23645"/><rect x="1206" y="503" width="3" height="36" fill="#f23645"/><rect x="1212" y="538" width="1" height="52" fill="#f23645"/><rect x="1211" y="539" width="3" height="46" fill="#f23645"/><rect x="1217" y="546" width="1" height="41" fill="#089981"/><rect x="1216" y="555" width="3" height="30" fill="#089981"/><rect x="1223" y="554" width="1" height="22" fill="#f23645"/><rect x="1222" y="555" width="3" height="10" fill="#f23645"/><rect x="1228" y="565" width="1" height="9" fill="#f23645"/><rect x="1227" y="565" width="3" height="4" fill="#f23645"/><rect x="1233" y="567" width="1" height="11" fill="#f23645"/><rect x="1232" y="569" width="3" height="8" fill="#f23645"/><rect x="1238" y="562" width="1" height="24" fill="#089981"/><rect x="1237" y="572" width="3" height="5" fill="#089981"/><rect x="1243" y="563" width="1" height="11" fill="#089981"/><rect x="1242" y="567" width="3" height="5" fill="#089981"/><rect x="1248" y="566" width="1" height="10" fill="#f23645"/><rect x="1247" y="567" width="3" height="4" fill="#f23645"/><rect x="1254" y="570" width="1" height="6" fill="#089981"/><rect x="1253" y="571" width="3" height="1" fill="#089981"/><rect x="1259" y="565" width="1" height="8" fill="#089981"/><rect x="1258" y="571" width="3" height="1" fill="#089981"/><rect x="1264" y="568" width="1" height="5" fill="#089981"/><rect x="1263" y="570" width="3" height="1" fill="#089981"/><rect x="1269" y="570" width="1" height="8" fill="#f23645"/><rect x="1268" y="570" width="3" height="8" fill="#f23645"/><rect x="1274" y="578" width="1" height="14" fill="#f23645"/><rect x="1273" y="578" width="3" height="9" fill="#f23645"/><rect x="1279" y="577" width="1" height="12" fill="#089981"/><rect x="1278" y="579" width="3" height="8" fill="#089981"/><rect x="1285" y="570" width="1" height="10" fill="#089981"/><rect x="1284" y="572" width="3" height="7" fill="#089981"/><rect x="1290" y="569" width="1" height="4" fill="#089981"/><rect x="1289" y="570" width="3" height="2" fill="#089981"/></g>
<polyline points="1217.8,552 1279.4,570.8 1212.6,588.8" fill="none" stroke="#131722" stroke-width="1.2"/>
</g>
<g clip-path="url(#cv)">
<polyline points="8.50,738.81 13.50,738.84 18.50,738.83 23.50,738.81 28.50,738.80 34.50,738.92 39.50,738.90 44.50,738.89 49.50,738.92 54.50,738.95 60.50,738.98 65.50,738.96 70.50,739.01 75.50,739.04 80.50,739.07 85.50,739.10 91.50,739.07 96.50,739.10 101.50,739.13 106.50,739.25 111.50,739.36 116.50,739.31 122.50,739.30 127.50,739.35 132.50,739.39 137.50,739.34 142.50,739.47 147.50,739.61 153.50,739.55 158.50,739.57 163.50,739.57 168.50,739.56 173.50,739.54 178.50,739.63 184.50,739.67 189.50,739.62 194.50,739.62 199.50,739.56 204.50,739.51 209.50,739.44 215.50,739.36 220.50,739.44 225.50,739.51 230.50,739.54 235.50,739.49 240.50,739.29 246.50,739.15 251.50,739.09 256.50,739.03 261.50,738.55 266.50,738.15 271.50,737.68 277.50,737.16 282.50,736.95 287.50,736.91 292.50,736.95 297.50,736.89 302.50,736.87 308.50,736.85 313.50,736.76 318.50,736.67 323.50,736.75 328.50,736.76 333.50,736.66 339.50,736.66 344.50,736.76 349.50,736.70 354.50,736.52 359.50,736.67 364.50,737.17 370.50,737.41 375.50,737.86 380.50,738.18 385.50,738.22 390.50,738.18 396.50,738.22 401.50,738.37 406.50,738.39 411.50,738.26 416.50,738.28 421.50,738.32 427.50,738.14 432.50,738.03 437.50,737.94 442.50,737.28 447.50,736.86 452.50,736.46 458.50,736.47 463.50,736.30 468.50,735.74 473.50,735.65 478.50,735.54 483.50,735.57 489.50,735.46 494.50,735.40 499.50,735.24 504.50,735.20 509.50,735.24 514.50,735.40 520.50,735.40 525.50,735.31 530.50,735.22 535.50,735.08 540.50,735.23 545.50,735.94 551.50,736.30 556.50,736.70 561.50,736.72 566.50,736.74 571.50,736.11 576.50,735.90 582.50,735.62 587.50,735.49 592.50,735.35 597.50,734.90 602.50,734.60 607.50,734.30 613.50,733.99 618.50,733.78 623.50,733.17 628.50,732.59 633.50,732.11 638.50,731.84 644.50,731.46 649.50,731.20 654.50,731.11 659.50,730.80 664.50,730.49 669.50,730.04 675.50,730.58 680.50,730.51 685.50,730.61 690.50,730.66 695.50,730.66 701.50,730.87 706.50,730.97 711.50,730.92 716.50,730.82 721.50,730.97 726.50,731.46 732.50,731.78 737.50,732.10 742.50,732.02 747.50,731.75 752.50,731.63 757.50,731.45 763.50,731.50 768.50,731.26 773.50,731.38 778.50,731.43 783.50,731.62 788.50,731.22 794.50,731.08 799.50,731.04 804.50,730.83 809.50,730.63 814.50,730.57 819.50,730.57 825.50,729.92 830.50,729.66 835.50,729.72 840.50,729.48 845.50,729.33 850.50,729.22 856.50,728.94 861.50,728.65 866.50,728.68 871.50,729.02 876.50,728.93 881.50,728.48 887.50,727.98 892.50,728.03 897.50,727.16 902.50,726.64 907.50,726.45 912.50,725.79 918.50,724.94 923.50,724.39 928.50,724.18 933.50,723.84 938.50,723.70 943.50,723.54 949.50,723.14 954.50,722.98 959.50,722.53 964.50,722.08 969.50,721.32 974.50,720.96 980.50,721.02 985.50,720.72 990.50,719.74 995.50,718.89 1000.50,719.01 1005.50,718.57 1011.50,718.92 1016.50,719.56 1021.50,720.02 1026.50,720.08 1031.50,720.19 1037.50,720.05 1042.50,719.96 1047.50,720.46 1052.50,721.37 1057.50,721.72 1062.50,722.18 1068.50,722.74 1073.50,722.70 1078.50,722.36 1083.50,722.62 1088.50,723.62 1093.50,724.86 1099.50,725.76 1104.50,726.45 1109.50,727.15 1114.50,726.85 1119.50,727.15 1124.50,727.56 1130.50,727.75 1135.50,727.69 1140.50,727.48 1145.50,727.13 1150.50,726.53 1155.50,726.03 1161.50,726.07 1166.50,725.87 1171.50,725.68 1176.50,725.78 1181.50,725.87 1186.50,724.78 1192.50,724.43 1197.50,724.38 1202.50,723.93 1207.50,722.08 1212.50,720.42 1217.50,719.27 1223.50,718.33 1228.50,718.33 1233.50,718.58 1238.50,718.38 1243.50,718.73 1248.50,718.93 1254.50,719.14 1259.50,719.29 1264.50,719.60 1269.50,720.09 1274.50,719.94 1279.50,720.33 1285.50,720.53 1290.50,721.88" fill="none" stroke="#2962ff" stroke-width="1.3" stroke-linejoin="round"/>
<g shape-rendering="crispEdges"><rect x="6" y="739" width="4" height="4" fill="rgba(239,83,80,0.5)"/><rect x="11" y="739" width="4" height="4" fill="rgba(38,166,154,0.5)"/><rect x="16" y="739" width="4" height="4" fill="rgba(38,166,154,0.5)"/><rect x="21" y="739" width="4" height="4" fill="rgba(38,166,154,0.5)"/><rect x="26" y="739" width="4" height="4" fill="rgba(38,166,154,0.5)"/><rect x="32" y="741" width="4" height="2" fill="rgba(38,166,154,0.5)"/><rect x="37" y="739" width="4" height="4" fill="rgba(38,166,154,0.5)"/><rect x="42" y="739" width="4" height="4" fill="rgba(38,166,154,0.5)"/><rect x="47" y="739" width="4" height="4" fill="rgba(38,166,154,0.5)"/><rect x="52" y="739" width="4" height="4" fill="rgba(239,83,80,0.5)"/><rect x="58" y="739" width="4" height="4" fill="rgba(239,83,80,0.5)"/><rect x="63" y="739" width="4" height="4" fill="rgba(38,166,154,0.5)"/><rect x="68" y="740" width="4" height="3" fill="rgba(239,83,80,0.5)"/><rect x="73" y="739" width="4" height="4" fill="rgba(38,166,154,0.5)"/><rect x="78" y="739" width="4" height="4" fill="rgba(38,166,154,0.5)"/><rect x="83" y="739" width="4" height="4" fill="rgba(239,83,80,0.5)"/><rect x="89" y="738" width="4" height="5" fill="rgba(239,83,80,0.5)"/><rect x="94" y="739" width="4" height="4" fill="rgba(38,166,154,0.5)"/><rect x="99" y="739" width="4" height="4" fill="rgba(239,83,80,0.5)"/><rect x="104" y="741" width="4" height="2" fill="rgba(38,166,154,0.5)"/><rect x="109" y="741" width="4" height="2" fill="rgba(239,83,80,0.5)"/><rect x="114" y="738" width="4" height="5" fill="rgba(239,83,80,0.5)"/><rect x="120" y="738" width="4" height="5" fill="rgba(38,166,154,0.5)"/><rect x="125" y="739" width="4" height="4" fill="rgba(38,166,154,0.5)"/><rect x="130" y="739" width="4" height="4" fill="rgba(239,83,80,0.5)"/><rect x="135" y="740" width="4" height="3" fill="rgba(38,166,154,0.5)"/><rect x="140" y="741" width="4" height="2" fill="rgba(239,83,80,0.5)"/><rect x="145" y="741" width="4" height="2" fill="rgba(239,83,80,0.5)"/><rect x="151" y="738" width="4" height="5" fill="rgba(38,166,154,0.5)"/><rect x="156" y="740" width="4" height="3" fill="rgba(38,166,154,0.5)"/><rect x="161" y="739" width="4" height="4" fill="rgba(239,83,80,0.5)"/><rect x="166" y="738" width="4" height="5" fill="rgba(239,83,80,0.5)"/><rect x="171" y="739" width="4" height="4" fill="rgba(239,83,80,0.5)"/><rect x="176" y="741" width="4" height="2" fill="rgba(239,83,80,0.5)"/><rect x="182" y="740" width="4" height="3" fill="rgba(38,166,154,0.5)"/><rect x="187" y="738" width="4" height="5" fill="rgba(38,166,154,0.5)"/><rect x="192" y="738" width="4" height="5" fill="rgba(239,83,80,0.5)"/><rect x="197" y="738" width="4" height="5" fill="rgba(38,166,154,0.5)"/><rect x="202" y="738" width="4" height="5" fill="rgba(38,166,154,0.5)"/><rect x="207" y="740" width="4" height="3" fill="rgba(239,83,80,0.5)"/><rect x="213" y="740" width="4" height="3" fill="rgba(239,83,80,0.5)"/><rect x="218" y="740" width="4" height="3" fill="rgba(38,166,154,0.5)"/><rect x="223" y="740" width="4" height="3" fill="rgba(38,166,154,0.5)"/><rect x="228" y="740" width="4" height="3" fill="rgba(239,83,80,0.5)"/><rect x="233" y="738" width="4" height="5" fill="rgba(38,166,154,0.5)"/><rect x="238" y="736" width="4" height="7" fill="rgba(239,83,80,0.5)"/><rect x="244" y="738" width="4" height="5" fill="rgba(239,83,80,0.5)"/><rect x="249" y="740" width="4" height="3" fill="rgba(239,83,80,0.5)"/><rect x="254" y="737" width="4" height="6" fill="rgba(239,83,80,0.5)"/><rect x="259" y="730" width="4" height="13" fill="rgba(239,83,80,0.5)"/><rect x="264" y="731" width="4" height="12" fill="rgba(38,166,154,0.5)"/><rect x="269" y="729" width="4" height="14" fill="rgba(239,83,80,0.5)"/><rect x="275" y="729" width="4" height="14" fill="rgba(239,83,80,0.5)"/><rect x="280" y="737" width="4" height="6" fill="rgba(38,166,154,0.5)"/><rect x="285" y="739" width="4" height="4" fill="rgba(38,166,154,0.5)"/><rect x="290" y="739" width="4" height="4" fill="rgba(38,166,154,0.5)"/><rect x="295" y="737" width="4" height="6" fill="rgba(239,83,80,0.5)"/><rect x="300" y="738" width="4" height="5" fill="rgba(38,166,154,0.5)"/><rect x="306" y="738" width="4" height="5" fill="rgba(239,83,80,0.5)"/><rect x="311" y="738" width="4" height="5" fill="rgba(38,166,154,0.5)"/><rect x="316" y="738" width="4" height="5" fill="rgba(239,83,80,0.5)"/><rect x="321" y="741" width="4" height="2" fill="rgba(38,166,154,0.5)"/><rect x="326" y="740" width="4" height="3" fill="rgba(38,166,154,0.5)"/><rect x="331" y="738" width="4" height="5" fill="rgba(239,83,80,0.5)"/><rect x="337" y="738" width="4" height="5" fill="rgba(38,166,154,0.5)"/><rect x="342" y="738" width="4" height="5" fill="rgba(239,83,80,0.5)"/><rect x="347" y="737" width="4" height="6" fill="rgba(239,83,80,0.5)"/><rect x="352" y="737" width="4" height="6" fill="rgba(239,83,80,0.5)"/><rect x="357" y="740" width="4" height="3" fill="rgba(38,166,154,0.5)"/><rect x="362" y="740" width="4" height="3" fill="rgba(38,166,154,0.5)"/><rect x="368" y="736" width="4" height="7" fill="rgba(38,166,154,0.5)"/><rect x="373" y="738" width="4" height="5" fill="rgba(38,166,154,0.5)"/><rect x="378" y="735" width="4" height="8" fill="rgba(239,83,80,0.5)"/><rect x="383" y="738" width="4" height="5" fill="rgba(38,166,154,0.5)"/><rect x="388" y="738" width="4" height="5" fill="rgba(239,83,80,0.5)"/><rect x="394" y="740" width="4" height="3" fill="rgba(38,166,154,0.5)"/><rect x="399" y="740" width="4" height="3" fill="rgba(38,166,154,0.5)"/><rect x="404" y="738" width="4" height="5" fill="rgba(38,166,154,0.5)"/><rect x="409" y="735" width="4" height="8" fill="rgba(239,83,80,0.5)"/><rect x="414" y="738" width="4" height="5" fill="rgba(239,83,80,0.5)"/><rect x="419" y="739" width="4" height="4" fill="rgba(239,83,80,0.5)"/><rect x="425" y="738" width="4" height="5" fill="rgba(239,83,80,0.5)"/><rect x="430" y="738" width="4" height="5" fill="rgba(239,83,80,0.5)"/><rect x="435" y="736" width="4" height="7" fill="rgba(239,83,80,0.5)"/><rect x="440" y="725" width="4" height="18" fill="rgba(239,83,80,0.5)"/><rect x="445" y="730" width="4" height="13" fill="rgba(239,83,80,0.5)"/><rect x="450" y="729" width="4" height="14" fill="rgba(38,166,154,0.5)"/><rect x="456" y="737" width="4" height="6" fill="rgba(239,83,80,0.5)"/><rect x="461" y="737" width="4" height="6" fill="rgba(38,166,154,0.5)"/><rect x="466" y="729" width="4" height="14" fill="rgba(239,83,80,0.5)"/><rect x="471" y="734" width="4" height="9" fill="rgba(38,166,154,0.5)"/><rect x="476" y="736" width="4" height="7" fill="rgba(239,83,80,0.5)"/><rect x="481" y="736" width="4" height="7" fill="rgba(38,166,154,0.5)"/><rect x="487" y="736" width="4" height="7" fill="rgba(239,83,80,0.5)"/><rect x="492" y="737" width="4" height="6" fill="rgba(38,166,154,0.5)"/><rect x="497" y="737" width="4" height="6" fill="rgba(38,166,154,0.5)"/><rect x="502" y="739" width="4" height="4" fill="rgba(38,166,154,0.5)"/><rect x="507" y="739" width="4" height="4" fill="rgba(239,83,80,0.5)"/><rect x="512" y="738" width="4" height="5" fill="rgba(239,83,80,0.5)"/><rect x="518" y="738" width="4" height="5" fill="rgba(239,83,80,0.5)"/><rect x="523" y="737" width="4" height="6" fill="rgba(239,83,80,0.5)"/><rect x="528" y="736" width="4" height="7" fill="rgba(239,83,80,0.5)"/><rect x="533" y="735" width="4" height="8" fill="rgba(239,83,80,0.5)"/><rect x="538" y="739" width="4" height="4" fill="rgba(239,83,80,0.5)"/><rect x="543" y="739" width="4" height="4" fill="rgba(38,166,154,0.5)"/><rect x="549" y="737" width="4" height="6" fill="rgba(38,166,154,0.5)"/><rect x="554" y="737" width="4" height="6" fill="rgba(239,83,80,0.5)"/><rect x="559" y="737" width="4" height="6" fill="rgba(38,166,154,0.5)"/><rect x="564" y="737" width="4" height="6" fill="rgba(38,166,154,0.5)"/><rect x="569" y="716" width="4" height="27" fill="rgba(239,83,80,0.5)"/><rect x="574" y="730" width="4" height="13" fill="rgba(239,83,80,0.5)"/><rect x="580" y="730" width="4" height="13" fill="rgba(239,83,80,0.5)"/><rect x="585" y="733" width="4" height="10" fill="rgba(239,83,80,0.5)"/><rect x="590" y="733" width="4" height="10" fill="rgba(239,83,80,0.5)"/><rect x="595" y="728" width="4" height="15" fill="rgba(38,166,154,0.5)"/><rect x="600" y="731" width="4" height="12" fill="rgba(38,166,154,0.5)"/><rect x="605" y="733" width="4" height="10" fill="rgba(38,166,154,0.5)"/><rect x="611" y="733" width="4" height="10" fill="rgba(38,166,154,0.5)"/><rect x="616" y="734" width="4" height="9" fill="rgba(239,83,80,0.5)"/><rect x="621" y="726" width="4" height="17" fill="rgba(38,166,154,0.5)"/><rect x="626" y="725" width="4" height="18" fill="rgba(38,166,154,0.5)"/><rect x="631" y="726" width="4" height="17" fill="rgba(239,83,80,0.5)"/><rect x="636" y="730" width="4" height="13" fill="rgba(239,83,80,0.5)"/><rect x="642" y="732" width="4" height="11" fill="rgba(239,83,80,0.5)"/><rect x="647" y="734" width="4" height="9" fill="rgba(239,83,80,0.5)"/><rect x="652" y="735" width="4" height="8" fill="rgba(38,166,154,0.5)"/><rect x="657" y="731" width="4" height="12" fill="rgba(239,83,80,0.5)"/><rect x="662" y="731" width="4" height="12" fill="rgba(239,83,80,0.5)"/><rect x="667" y="728" width="4" height="15" fill="rgba(38,166,154,0.5)"/><rect x="673" y="727" width="4" height="16" fill="rgba(38,166,154,0.5)"/><rect x="678" y="729" width="4" height="14" fill="rgba(239,83,80,0.5)"/><rect x="683" y="732" width="4" height="11" fill="rgba(239,83,80,0.5)"/><rect x="688" y="734" width="4" height="9" fill="rgba(239,83,80,0.5)"/><rect x="693" y="733" width="4" height="10" fill="rgba(239,83,80,0.5)"/><rect x="699" y="732" width="4" height="11" fill="rgba(239,83,80,0.5)"/><rect x="704" y="733" width="4" height="10" fill="rgba(239,83,80,0.5)"/><rect x="709" y="732" width="4" height="11" fill="rgba(239,83,80,0.5)"/><rect x="714" y="731" width="4" height="12" fill="rgba(38,166,154,0.5)"/><rect x="719" y="737" width="4" height="6" fill="rgba(239,83,80,0.5)"/><rect x="724" y="736" width="4" height="7" fill="rgba(38,166,154,0.5)"/><rect x="730" y="732" width="4" height="11" fill="rgba(38,166,154,0.5)"/><rect x="735" y="733" width="4" height="10" fill="rgba(239,83,80,0.5)"/><rect x="740" y="728" width="4" height="15" fill="rgba(38,166,154,0.5)"/><rect x="745" y="726" width="4" height="17" fill="rgba(239,83,80,0.5)"/><rect x="750" y="732" width="4" height="11" fill="rgba(38,166,154,0.5)"/><rect x="755" y="732" width="4" height="11" fill="rgba(38,166,154,0.5)"/><rect x="761" y="732" width="4" height="11" fill="rgba(239,83,80,0.5)"/><rect x="766" y="726" width="4" height="17" fill="rgba(239,83,80,0.5)"/><rect x="771" y="730" width="4" height="13" fill="rgba(239,83,80,0.5)"/><rect x="776" y="728" width="4" height="15" fill="rgba(239,83,80,0.5)"/><rect x="781" y="733" width="4" height="10" fill="rgba(239,83,80,0.5)"/><rect x="786" y="724" width="4" height="19" fill="rgba(239,83,80,0.5)"/><rect x="792" y="731" width="4" height="12" fill="rgba(38,166,154,0.5)"/><rect x="797" y="732" width="4" height="11" fill="rgba(38,166,154,0.5)"/><rect x="802" y="728" width="4" height="15" fill="rgba(239,83,80,0.5)"/><rect x="807" y="729" width="4" height="14" fill="rgba(38,166,154,0.5)"/><rect x="812" y="731" width="4" height="12" fill="rgba(239,83,80,0.5)"/><rect x="817" y="731" width="4" height="12" fill="rgba(38,166,154,0.5)"/><rect x="823" y="724" width="4" height="19" fill="rgba(239,83,80,0.5)"/><rect x="828" y="731" width="4" height="12" fill="rgba(239,83,80,0.5)"/><rect x="833" y="733" width="4" height="10" fill="rgba(239,83,80,0.5)"/><rect x="838" y="728" width="4" height="15" fill="rgba(38,166,154,0.5)"/><rect x="843" y="725" width="4" height="18" fill="rgba(239,83,80,0.5)"/><rect x="848" y="724" width="4" height="19" fill="rgba(38,166,154,0.5)"/><rect x="854" y="726" width="4" height="17" fill="rgba(38,166,154,0.5)"/><rect x="859" y="726" width="4" height="17" fill="rgba(239,83,80,0.5)"/><rect x="864" y="732" width="4" height="11" fill="rgba(239,83,80,0.5)"/><rect x="869" y="733" width="4" height="10" fill="rgba(38,166,154,0.5)"/><rect x="874" y="729" width="4" height="14" fill="rgba(239,83,80,0.5)"/><rect x="879" y="719" width="4" height="24" fill="rgba(239,83,80,0.5)"/><rect x="885" y="723" width="4" height="20" fill="rgba(38,166,154,0.5)"/><rect x="890" y="725" width="4" height="18" fill="rgba(38,166,154,0.5)"/><rect x="895" y="714" width="4" height="29" fill="rgba(38,166,154,0.5)"/><rect x="900" y="722" width="4" height="21" fill="rgba(38,166,154,0.5)"/><rect x="905" y="724" width="4" height="19" fill="rgba(38,166,154,0.5)"/><rect x="910" y="716" width="4" height="27" fill="rgba(38,166,154,0.5)"/><rect x="916" y="714" width="4" height="29" fill="rgba(239,83,80,0.5)"/><rect x="921" y="720" width="4" height="23" fill="rgba(38,166,154,0.5)"/><rect x="926" y="720" width="4" height="23" fill="rgba(239,83,80,0.5)"/><rect x="931" y="724" width="4" height="19" fill="rgba(38,166,154,0.5)"/><rect x="936" y="730" width="4" height="13" fill="rgba(38,166,154,0.5)"/><rect x="941" y="725" width="4" height="18" fill="rgba(239,83,80,0.5)"/><rect x="947" y="717" width="4" height="26" fill="rgba(38,166,154,0.5)"/><rect x="952" y="721" width="4" height="22" fill="rgba(239,83,80,0.5)"/><rect x="957" y="717" width="4" height="26" fill="rgba(239,83,80,0.5)"/><rect x="962" y="717" width="4" height="26" fill="rgba(38,166,154,0.5)"/><rect x="967" y="717" width="4" height="26" fill="rgba(239,83,80,0.5)"/><rect x="972" y="726" width="4" height="17" fill="rgba(239,83,80,0.5)"/><rect x="978" y="730" width="4" height="13" fill="rgba(239,83,80,0.5)"/><rect x="983" y="713" width="4" height="30" fill="rgba(38,166,154,0.5)"/><rect x="988" y="703" width="4" height="40" fill="rgba(239,83,80,0.5)"/><rect x="993" y="708" width="4" height="35" fill="rgba(38,166,154,0.5)"/><rect x="998" y="716" width="4" height="27" fill="rgba(38,166,154,0.5)"/><rect x="1003" y="713" width="4" height="30" fill="rgba(239,83,80,0.5)"/><rect x="1009" y="731" width="4" height="12" fill="rgba(239,83,80,0.5)"/><rect x="1014" y="729" width="4" height="14" fill="rgba(239,83,80,0.5)"/><rect x="1019" y="723" width="4" height="20" fill="rgba(38,166,154,0.5)"/><rect x="1024" y="721" width="4" height="22" fill="rgba(38,166,154,0.5)"/><rect x="1029" y="722" width="4" height="21" fill="rgba(239,83,80,0.5)"/><rect x="1035" y="721" width="4" height="22" fill="rgba(239,83,80,0.5)"/><rect x="1040" y="728" width="4" height="15" fill="rgba(239,83,80,0.5)"/><rect x="1045" y="735" width="4" height="8" fill="rgba(239,83,80,0.5)"/><rect x="1050" y="735" width="4" height="8" fill="rgba(38,166,154,0.5)"/><rect x="1055" y="728" width="4" height="15" fill="rgba(239,83,80,0.5)"/><rect x="1060" y="726" width="4" height="17" fill="rgba(239,83,80,0.5)"/><rect x="1066" y="728" width="4" height="15" fill="rgba(38,166,154,0.5)"/><rect x="1071" y="716" width="4" height="27" fill="rgba(38,166,154,0.5)"/><rect x="1076" y="719" width="4" height="24" fill="rgba(239,83,80,0.5)"/><rect x="1081" y="735" width="4" height="8" fill="rgba(239,83,80,0.5)"/><rect x="1086" y="733" width="4" height="10" fill="rgba(38,166,154,0.5)"/><rect x="1091" y="728" width="4" height="15" fill="rgba(38,166,154,0.5)"/><rect x="1097" y="726" width="4" height="17" fill="rgba(239,83,80,0.5)"/><rect x="1102" y="730" width="4" height="13" fill="rgba(239,83,80,0.5)"/><rect x="1107" y="727" width="4" height="16" fill="rgba(239,83,80,0.5)"/><rect x="1112" y="725" width="4" height="18" fill="rgba(38,166,154,0.5)"/><rect x="1117" y="735" width="4" height="8" fill="rgba(38,166,154,0.5)"/><rect x="1122" y="731" width="4" height="12" fill="rgba(38,166,154,0.5)"/><rect x="1128" y="725" width="4" height="18" fill="rgba(239,83,80,0.5)"/><rect x="1133" y="721" width="4" height="22" fill="rgba(38,166,154,0.5)"/><rect x="1138" y="717" width="4" height="26" fill="rgba(38,166,154,0.5)"/><rect x="1143" y="721" width="4" height="22" fill="rgba(239,83,80,0.5)"/><rect x="1148" y="723" width="4" height="20" fill="rgba(38,166,154,0.5)"/><rect x="1153" y="725" width="4" height="18" fill="rgba(38,166,154,0.5)"/><rect x="1159" y="729" width="4" height="14" fill="rgba(239,83,80,0.5)"/><rect x="1164" y="722" width="4" height="21" fill="rgba(239,83,80,0.5)"/><rect x="1169" y="724" width="4" height="19" fill="rgba(239,83,80,0.5)"/><rect x="1174" y="718" width="4" height="25" fill="rgba(239,83,80,0.5)"/><rect x="1179" y="721" width="4" height="22" fill="rgba(38,166,154,0.5)"/><rect x="1184" y="713" width="4" height="30" fill="rgba(38,166,154,0.5)"/><rect x="1190" y="726" width="4" height="17" fill="rgba(38,166,154,0.5)"/><rect x="1195" y="727" width="4" height="16" fill="rgba(239,83,80,0.5)"/><rect x="1200" y="717" width="4" height="26" fill="rgba(239,83,80,0.5)"/><rect x="1205" y="693" width="4" height="50" fill="rgba(239,83,80,0.5)"/><rect x="1210" y="694" width="4" height="49" fill="rgba(239,83,80,0.5)"/><rect x="1215" y="702" width="4" height="41" fill="rgba(38,166,154,0.5)"/><rect x="1221" y="716" width="4" height="27" fill="rgba(239,83,80,0.5)"/><rect x="1226" y="731" width="4" height="12" fill="rgba(239,83,80,0.5)"/><rect x="1231" y="730" width="4" height="13" fill="rgba(239,83,80,0.5)"/><rect x="1236" y="717" width="4" height="26" fill="rgba(38,166,154,0.5)"/><rect x="1241" y="724" width="4" height="19" fill="rgba(38,166,154,0.5)"/><rect x="1246" y="725" width="4" height="18" fill="rgba(239,83,80,0.5)"/><rect x="1252" y="727" width="4" height="16" fill="rgba(38,166,154,0.5)"/><rect x="1257" y="728" width="4" height="15" fill="rgba(38,166,154,0.5)"/><rect x="1262" y="735" width="4" height="8" fill="rgba(38,166,154,0.5)"/><rect x="1267" y="732" width="4" height="11" fill="rgba(239,83,80,0.5)"/><rect x="1272" y="721" width="4" height="22" fill="rgba(239,83,80,0.5)"/><rect x="1277" y="726" width="4" height="17" fill="rgba(38,166,154,0.5)"/><rect x="1283" y="725" width="4" height="18" fill="rgba(38,166,154,0.5)"/><rect x="1288" y="740" width="4" height="3" fill="rgba(38,166,154,0.5)"/></g>
</g>
<g clip-path="url(#cr)">
<rect x="11" y="751" width="1743" height="44" fill="#f2eff9"/>
<line x1="11" y1="751.5" x2="1754" y2="751.5" stroke="#787b86" stroke-width="1" stroke-dasharray="5 6" stroke-dashoffset="1"/>
<line x1="11" y1="773.5" x2="1754" y2="773.5" stroke="rgba(120,123,134,0.5)" stroke-width="1" stroke-dasharray="5 6" stroke-dashoffset="1"/>
<line x1="11" y1="795.5" x2="1754" y2="795.5" stroke="#787b86" stroke-width="1" stroke-dasharray="5 6" stroke-dashoffset="1"/>
<polyline points="8.50,771.08 13.50,766.33 18.50,764.63 23.50,761.13 28.50,760.14 34.50,759.51 39.50,752.94 44.50,752.20 49.50,751.40 54.50,753.66 60.50,762.52 65.50,759.90 70.50,762.48 75.50,760.34 80.50,759.71 85.50,766.03 91.50,776.97 96.50,775.70 101.50,780.58 106.50,778.09 111.50,780.55 116.50,789.59 122.50,786.73 127.50,781.34 132.50,785.45 137.50,782.41 142.50,783.05 147.50,785.60 153.50,779.66 158.50,776.27 163.50,776.80 168.50,780.73 173.50,783.88 178.50,784.95 184.50,784.90 189.50,778.77 194.50,788.25 199.50,781.93 204.50,779.26 209.50,783.84 215.50,787.32 220.50,782.65 225.50,782.33 230.50,785.53 235.50,775.13 240.50,786.39 246.50,787.97 251.50,789.55 256.50,793.46 261.50,801.51 266.50,796.90 271.50,800.32 277.50,800.45 282.50,799.10 287.50,794.87 292.50,788.70 297.50,792.38 302.50,789.61 308.50,793.85 313.50,786.44 318.50,789.33 323.50,788.21 328.50,784.29 333.50,787.73 339.50,785.16 344.50,785.52 349.50,786.64 354.50,788.52 359.50,786.22 364.50,783.70 370.50,772.52 375.50,772.22 380.50,780.58 385.50,777.52 390.50,780.48 396.50,779.64 401.50,779.35 406.50,771.98 411.50,773.21 416.50,777.64 421.50,778.08 427.50,782.74 432.50,785.54 437.50,792.17 442.50,801.93 447.50,802.58 452.50,799.87 458.50,804.02 463.50,803.61 468.50,806.17 473.50,796.87 478.50,796.87 483.50,795.98 489.50,797.83 494.50,791.07 499.50,790.32 504.50,788.77 509.50,790.35 514.50,791.40 520.50,793.02 525.50,793.59 530.50,794.26 535.50,796.67 540.50,796.77 545.50,796.17 551.50,787.78 556.50,788.09 561.50,784.62 566.50,776.17 571.50,776.37 576.50,776.40 582.50,781.53 587.50,786.96 592.50,790.32 597.50,782.38 602.50,779.54 607.50,777.61 613.50,774.72 618.50,777.72 623.50,765.67 628.50,760.94 633.50,762.45 638.50,763.05 644.50,766.99 649.50,768.92 654.50,768.00 659.50,777.84 664.50,778.23 669.50,766.27 675.50,761.41 680.50,761.97 685.50,763.10 690.50,766.11 695.50,766.35 701.50,768.92 706.50,770.47 711.50,772.30 716.50,766.56 721.50,770.04 726.50,768.19 732.50,763.20 737.50,769.80 742.50,763.80 747.50,764.00 752.50,760.67 757.50,760.41 763.50,762.03 768.50,764.58 773.50,767.44 778.50,773.14 783.50,774.74 788.50,792.27 794.50,789.05 799.50,785.20 804.50,785.98 809.50,784.56 814.50,785.76 819.50,783.50 825.50,792.51 830.50,793.67 835.50,796.31 840.50,787.74 845.50,790.66 850.50,787.96 856.50,787.02 861.50,788.32 866.50,789.20 871.50,786.92 876.50,788.59 881.50,795.61 887.50,788.95 892.50,788.60 897.50,768.40 902.50,766.30 907.50,765.00 912.50,761.03 918.50,778.88 923.50,778.47 928.50,781.83 933.50,780.95 938.50,778.24 943.50,783.02 949.50,781.89 954.50,786.24 959.50,788.74 964.50,779.87 969.50,780.64 974.50,783.21 980.50,783.99 985.50,779.74 990.50,780.91 995.50,777.47 1000.50,775.65 1005.50,777.25 1011.50,778.34 1016.50,780.83 1021.50,774.15 1026.50,767.21 1031.50,769.22 1037.50,771.51 1042.50,776.06 1047.50,777.24 1052.50,776.88 1057.50,780.25 1062.50,781.23 1068.50,779.65 1073.50,776.34 1078.50,778.87 1083.50,780.38 1088.50,777.11 1093.50,772.78 1099.50,775.98 1104.50,778.76 1109.50,779.98 1114.50,777.81 1119.50,777.14 1124.50,770.76 1130.50,774.66 1135.50,763.59 1140.50,756.34 1145.50,764.18 1150.50,761.08 1155.50,758.91 1161.50,761.96 1166.50,764.25 1171.50,764.37 1176.50,770.00 1181.50,769.19 1186.50,757.97 1192.50,756.52 1197.50,763.27 1202.50,768.35 1207.50,788.88 1212.50,801.74 1217.50,786.50 1223.50,789.02 1228.50,790.08 1233.50,792.07 1238.50,789.71 1243.50,787.32 1248.50,788.49 1254.50,788.31 1259.50,788.20 1264.50,788.04 1269.50,790.83 1274.50,793.95 1279.50,788.51 1285.50,784.18 1290.50,782.81" fill="none" stroke="#8c8f99" stroke-width="1" stroke-linejoin="round"/>
</g>
<text x="1764.0" y="45.2" font-family="&quot;Liberation Sans&quot;, sans-serif" font-size="12" fill="#131722" text-anchor="start" textLength="27.5" lengthAdjust="spacingAndGlyphs">USDT</text>
<text x="1812.8" y="656.4" font-family="&quot;Liberation Sans&quot;, sans-serif" font-size="12" fill="#131722" text-anchor="end" textLength="49.0" lengthAdjust="spacingAndGlyphs">12000.00</text>
<text x="1812.8" y="621.7" font-family="&quot;Liberation Sans&quot;, sans-serif" font-size="12" fill="#131722" text-anchor="end" textLength="49.0" lengthAdjust="spacingAndGlyphs">14000.00</text>
<text x="1812.8" y="587.0" font-family="&quot;Liberation Sans&quot;, sans-serif" font-size="12" fill="#131722" text-anchor="end" textLength="49.0" lengthAdjust="spacingAndGlyphs">16000.00</text>
<text x="1812.8" y="552.3" font-family="&quot;Liberation Sans&quot;, sans-serif" font-size="12" fill="#131722" text-anchor="end" textLength="49.0" lengthAdjust="spacingAndGlyphs">18000.00</text>
<text x="1812.8" y="517.6" font-family="&quot;Liberation Sans&quot;, sans-serif" font-size="12" fill="#131722" text-anchor="end" textLength="49.0" lengthAdjust="spacingAndGlyphs">20000.00</text>
<text x="1812.8" y="482.9" font-family="&quot;Liberation Sans&quot;, sans-serif" font-size="12" fill="#131722" text-anchor="end" textLength="49.0" lengthAdjust="spacingAndGlyphs">22000.00</text>
<text x="1812.8" y="448.2" font-family="&quot;Liberation Sans&quot;, sans-serif" font-size="12" fill="#131722" text-anchor="end" textLength="49.0" lengthAdjust="spacingAndGlyphs">24000.00</text>
<text x="1812.8" y="413.4" font-family="&quot;Liberation Sans&quot;, sans-serif" font-size="12" fill="#131722" text-anchor="end" textLength="49.0" lengthAdjust="spacingAndGlyphs">26000.00</text>
<text x="1812.8" y="378.7" font-family="&quot;Liberation Sans&quot;, sans-serif" font-size="12" fill="#131722" text-anchor="end" textLength="49.0" lengthAdjust="spacingAndGlyphs">28000.00</text>
<text x="1812.8" y="344.0" font-family="&quot;Liberation Sans&quot;, sans-serif" font-size="12" fill="#131722" text-anchor="end" textLength="49.0" lengthAdjust="spacingAndGlyphs">30000.00</text>
<text x="1812.8" y="309.3" font-family="&quot;Liberation Sans&quot;, sans-serif" font-size="12" fill="#131722" text-anchor="end" textLength="49.0" lengthAdjust="spacingAndGlyphs">32000.00</text>
<text x="1812.8" y="274.6" font-family="&quot;Liberation Sans&quot;, sans-serif" font-size="12" fill="#131722" text-anchor="end" textLength="49.0" lengthAdjust="spacingAndGlyphs">34000.00</text>
<text x="1812.8" y="239.9" font-family="&quot;Liberation Sans&quot;, sans-serif" font-size="12" fill="#131722" text-anchor="end" textLength="49.0" lengthAdjust="spacingAndGlyphs">36000.00</text>
<text x="1812.8" y="205.2" font-family="&quot;Liberation Sans&quot;, sans-serif" font-size="12" fill="#131722" text-anchor="end" textLength="49.0" lengthAdjust="spacingAndGlyphs">38000.00</text>
<text x="1812.8" y="170.5" font-family="&quot;Liberation Sans&quot;, sans-serif" font-size="12" fill="#131722" text-anchor="end" textLength="49.0" lengthAdjust="spacingAndGlyphs">40000.00</text>
<text x="1812.8" y="135.7" font-family="&quot;Liberation Sans&quot;, sans-serif" font-size="12" fill="#131722" text-anchor="end" textLength="49.0" lengthAdjust="spacingAndGlyphs">42000.00</text>
<text x="1812.8" y="101.0" font-family="&quot;Liberation Sans&quot;, sans-serif" font-size="12" fill="#131722" text-anchor="end" textLength="49.0" lengthAdjust="spacingAndGlyphs">44000.00</text>
<text x="1812.8" y="66.3" font-family="&quot;Liberation Sans&quot;, sans-serif" font-size="12" fill="#131722" text-anchor="end" textLength="49.0" lengthAdjust="spacingAndGlyphs">46000.00</text>
<path d="M1754,165 h63 a2,2 0 0 1 2,2 v13 a2,2 0 0 1 -2,2 h-63 z" fill="#2962ff"/><text x="1812.8" y="178.1" font-family="&quot;Liberation Sans&quot;, sans-serif" font-size="12" fill="#fff" text-anchor="end" textLength="49.0" lengthAdjust="spacingAndGlyphs" stroke="#fff" stroke-width="0.35">39605.92</text>
<path d="M1754,460 h63 a2,2 0 0 1 2,2 v13 a2,2 0 0 1 -2,2 h-63 z" fill="#2962ff"/><text x="1812.8" y="473.1" font-family="&quot;Liberation Sans&quot;, sans-serif" font-size="12" fill="#fff" text-anchor="end" textLength="49.0" lengthAdjust="spacingAndGlyphs" stroke="#fff" stroke-width="0.35">22488.00</text>
<path d="M1754,477 h63 a2,2 0 0 1 2,2 v13 a2,2 0 0 1 -2,2 h-63 z" fill="#2962ff"/><text x="1812.8" y="490.1" font-family="&quot;Liberation Sans&quot;, sans-serif" font-size="12" fill="#fff" text-anchor="end" textLength="49.0" lengthAdjust="spacingAndGlyphs" stroke="#fff" stroke-width="0.35">20576.25</text>
<path d="M1754,494 h63 a2,2 0 0 1 2,2 v13 a2,2 0 0 1 -2,2 h-63 z" fill="#ff9800"/><text x="1812.8" y="507.1" font-family="&quot;Liberation Sans&quot;, sans-serif" font-size="12" fill="#131722" text-anchor="end" textLength="49.0" lengthAdjust="spacingAndGlyphs">18510.77</text>
<path d="M1754,511 h63 a2,2 0 0 1 2,2 v13 a2,2 0 0 1 -2,2 h-63 z" fill="#2b22ff"/><text x="1812.8" y="524.1" font-family="&quot;Liberation Sans&quot;, sans-serif" font-size="12" fill="#fff" text-anchor="end" textLength="49.0" lengthAdjust="spacingAndGlyphs" stroke="#fff" stroke-width="0.35">18422.84</text>
<path d="M1754,528 h63 a2,2 0 0 1 2,2 v13 a2,2 0 0 1 -2,2 h-63 z" fill="#ff9800"/><text x="1812.8" y="541.1" font-family="&quot;Liberation Sans&quot;, sans-serif" font-size="12" fill="#131722" text-anchor="end" textLength="49.0" lengthAdjust="spacingAndGlyphs">17622.00</text>
<path d="M1754,545 h63 a2,2 0 0 1 2,2 v13 a2,2 0 0 1 -2,2 h-63 z" fill="#ff9800"/><text x="1812.8" y="558.1" font-family="&quot;Liberation Sans&quot;, sans-serif" font-size="12" fill="#131722" text-anchor="end" textLength="49.0" lengthAdjust="spacingAndGlyphs">17273.20</text>
<path d="M1754,562 h63 a2,2 0 0 1 2,2 v13 a2,2 0 0 1 -2,2 h-63 z" fill="#089981"/><text x="1812.8" y="575.1" font-family="&quot;Liberation Sans&quot;, sans-serif" font-size="12" fill="#fff" text-anchor="end" textLength="49.0" lengthAdjust="spacingAndGlyphs" stroke="#fff" stroke-width="0.35">16723.80</text>
<text x="1764.0" y="714.3" font-family="&quot;Liberation Sans&quot;, sans-serif" font-size="12" fill="#131722" text-anchor="start" textLength="25.0" lengthAdjust="spacingAndGlyphs">500K</text>
<path d="M1754,710 h64 a2,2 0 0 1 2,2 v13 a2,2 0 0 1 -2,2 h-64 z" fill="#2962ff"/><text x="1814.4" y="723.1" font-family="&quot;Liberation Sans&quot;, sans-serif" font-size="12" fill="#fff" text-anchor="end" textLength="50.5" lengthAdjust="spacingAndGlyphs" stroke="#fff" stroke-width="0.35">309.565K</text>
<rect x="1754" y="727" width="59" height="16" fill="#26a69a"/>
<text x="1807.5" y="740.0" font-family="&quot;Liberation Sans&quot;, sans-serif" font-size="12" fill="#fff" text-anchor="end" textLength="43.5" lengthAdjust="spacingAndGlyphs" stroke="#fff" stroke-width="0.35">26.526K</text>
<path d="M1754,774 h44 a2,2 0 0 1 2,2 v13 a2,2 0 0 1 -2,2 h-44 z" fill="#9598a1"/>
<text x="1764.0" y="786.6" font-family="&quot;Liberation Sans&quot;, sans-serif" font-size="12" fill="#131722" text-anchor="start" textLength="29.5" lengthAdjust="spacingAndGlyphs">41.54</text>
<text x="1391.0" y="586.1" font-family="&quot;Liberation Sans&quot;, sans-serif" font-size="12" fill="#ff9800" text-anchor="start" textLength="86.5" lengthAdjust="spacingAndGlyphs">1.618(16019.91)</text>
<text x="1391.0" y="625.0" font-family="&quot;Liberation Sans&quot;, sans-serif" font-size="12" fill="#ff9800" text-anchor="start" textLength="86.5" lengthAdjust="spacingAndGlyphs">2.272(13804.94)</text>
<text x="55.1" y="829.9" font-family="&quot;Liberation Sans&quot;, sans-serif" font-size="12" fill="#131722" text-anchor="start" textLength="18.9" lengthAdjust="spacingAndGlyphs">Apr</text>
<text x="208.7" y="829.9" font-family="&quot;Liberation Sans&quot;, sans-serif" font-size="12" fill="#131722" text-anchor="start" textLength="21.9" lengthAdjust="spacingAndGlyphs">May</text>
<text x="370.1" y="829.9" font-family="&quot;Liberation Sans&quot;, sans-serif" font-size="12" fill="#131722" text-anchor="start" textLength="19.1" lengthAdjust="spacingAndGlyphs">Jun</text>
<text x="526.7" y="829.9" font-family="&quot;Liberation Sans&quot;, sans-serif" font-size="12" fill="#131722" text-anchor="start" textLength="16.7" lengthAdjust="spacingAndGlyphs">Jul</text>
<text x="684.8" y="829.9" font-family="&quot;Liberation Sans&quot;, sans-serif" font-size="12" fill="#131722" text-anchor="start" textLength="20.6" lengthAdjust="spacingAndGlyphs">Aug</text>
<text x="845.1" y="829.9" font-family="&quot;Liberation Sans&quot;, sans-serif" font-size="12" fill="#131722" text-anchor="start" textLength="20.0" lengthAdjust="spacingAndGlyphs">Sep</text>
<text x="1000.7" y="829.9" font-family="&quot;Liberation Sans&quot;, sans-serif" font-size="12" fill="#131722" text-anchor="start" textLength="19.6" lengthAdjust="spacingAndGlyphs">Oct</text>
<text x="1160.6" y="829.9" font-family="&quot;Liberation Sans&quot;, sans-serif" font-size="12" fill="#131722" text-anchor="start" textLength="21.1" lengthAdjust="spacingAndGlyphs">Nov</text>
<text x="1315.5" y="829.9" font-family="&quot;Liberation Sans&quot;, sans-serif" font-size="12" fill="#131722" text-anchor="start" textLength="20.6" lengthAdjust="spacingAndGlyphs">Dec</text>
<text stroke="#131722" stroke-width="0.5" x="1471.8" y="829.9" font-family="&quot;Liberation Sans&quot;, sans-serif" font-size="12" fill="#131722" text-anchor="start" textLength="28.7" lengthAdjust="spacingAndGlyphs">2023</text>
<text x="1635.9" y="829.9" font-family="&quot;Liberation Sans&quot;, sans-serif" font-size="12" fill="#131722" text-anchor="start" textLength="20.6" lengthAdjust="spacingAndGlyphs">Feb</text>
<text x="10.2" y="18.5" font-family="&quot;Liberation Sans&quot;, sans-serif" font-size="12" fill="#131722" text-anchor="start" textLength="418.0" lengthAdjust="spacingAndGlyphs">londoncallingkripto published on TradingView.com, Nov 24, 2022 09:20 UTC+7</text>
<text x="199.3" y="45.8" font-family="&quot;Liberation Sans&quot;, sans-serif" font-size="12" fill="#131722" text-anchor="start">O</text>
<text x="208.2" y="45.8" font-family="&quot;Liberation Sans&quot;, sans-serif" font-size="12" fill="#089981" text-anchor="start" textLength="47.5" lengthAdjust="spacingAndGlyphs">16603.11</text>
<text x="263.7" y="45.8" font-family="&quot;Liberation Sans&quot;, sans-serif" font-size="12" fill="#131722" text-anchor="start">H</text>
<text x="273.0" y="45.8" font-family="&quot;Liberation Sans&quot;, sans-serif" font-size="12" fill="#089981" text-anchor="start" textLength="47.0" lengthAdjust="spacingAndGlyphs">16812.63</text>
<text x="326.9" y="45.8" font-family="&quot;Liberation Sans&quot;, sans-serif" font-size="12" fill="#131722" text-anchor="start">L</text>
<text x="333.9" y="45.8" font-family="&quot;Liberation Sans&quot;, sans-serif" font-size="12" fill="#089981" text-anchor="start" textLength="47.5" lengthAdjust="spacingAndGlyphs">16533.65</text>
<text x="388.3" y="45.8" font-family="&quot;Liberation Sans&quot;, sans-serif" font-size="12" fill="#131722" text-anchor="start">C</text>
<text x="397.0" y="45.8" font-family="&quot;Liberation Sans&quot;, sans-serif" font-size="12" fill="#089981" text-anchor="start" textLength="47.5" lengthAdjust="spacingAndGlyphs">16723.80</text>
<text x="452.0" y="45.8" font-family="&quot;Liberation Sans&quot;, sans-serif" font-size="12" fill="#089981" text-anchor="start" textLength="41.5" lengthAdjust="spacingAndGlyphs">+120.69</text>
<text x="497.6" y="45.8" font-family="&quot;Liberation Sans&quot;, sans-serif" font-size="12" fill="#089981" text-anchor="start" textLength="45.5" lengthAdjust="spacingAndGlyphs">(+0.73%)</text>
<g fill="#131722"><path d="M10,852 h8 v10 h-4 v-6.5 h-4 z"/><circle cx="21.3" cy="854.2" r="1.8"/><path d="M24.5,852 h4.8 l-3.4,9.8 h-4.8 z"/></g>
<text x="32.7" y="861.8" font-family="&quot;Liberation Sans&quot;, sans-serif" font-size="12.6" fill="#131722" text-anchor="start" textLength="70.8" lengthAdjust="spacingAndGlyphs">TradingView</text>
</svg>
</body></html>
